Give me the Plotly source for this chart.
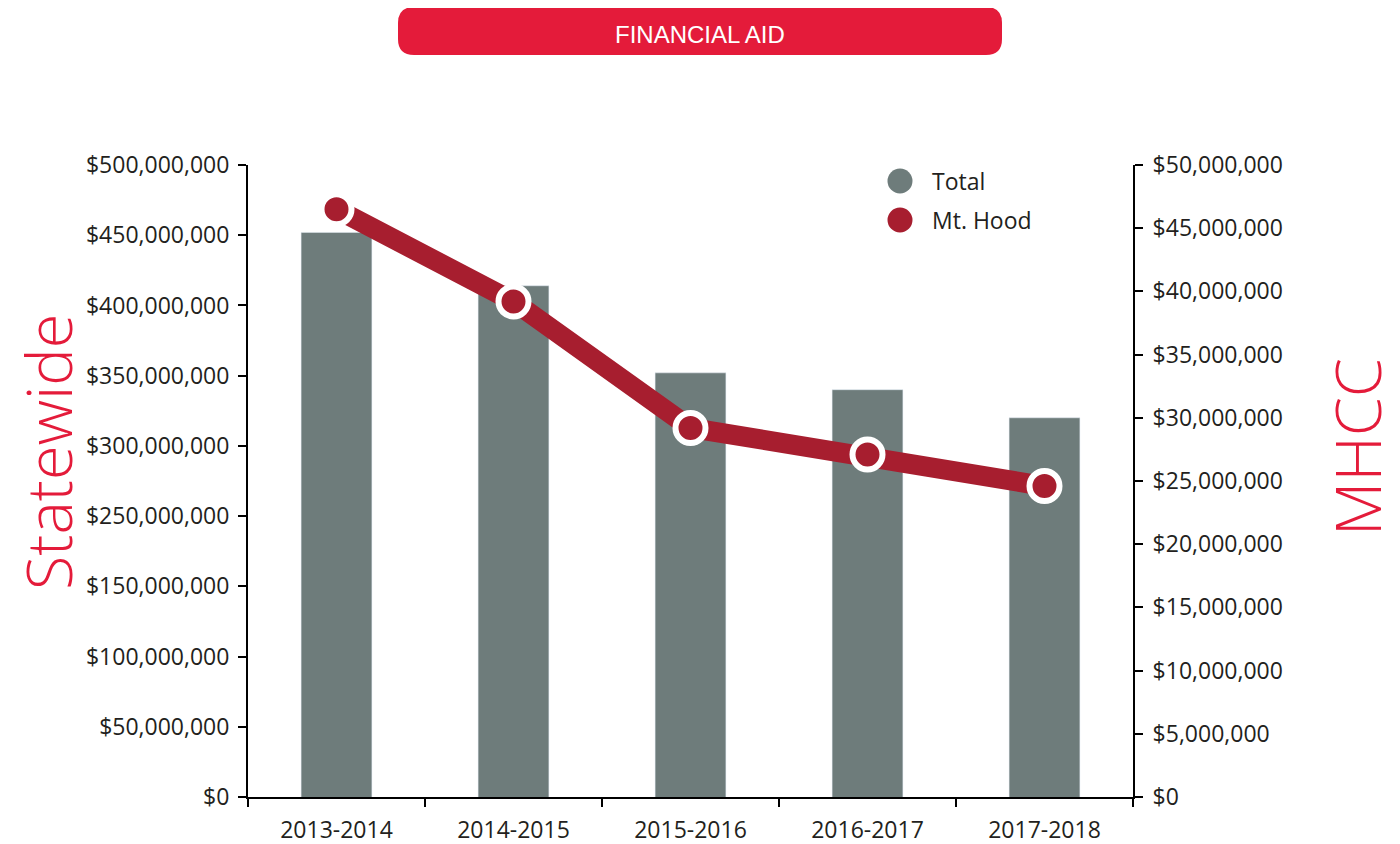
import plotly.graph_objects as go

# ---- data ----
years = ["2013-2014", "2014-2015", "2015-2016", "2016-2017", "2017-2018"]
statewide_total = [452e6, 414e6, 352e6, 340e6, 320e6]      # left axis
mhcc_mt_hood = [46.5e6, 39.2e6, 29.2e6, 27.1e6, 24.6e6]    # right axis

left_tickvals = [50e6, 100e6, 150e6, 200e6, 250e6, 300e6, 350e6, 400e6, 450e6, 500e6]
left_ticktext = ["$0", "$50,000,000", "$100,000,000", "$150,000,000", "$250,000,000",
                 "$300,000,000", "$350,000,000", "$400,000,000", "$450,000,000", "$500,000,000"]
right_tickvals = [i * 5e6 for i in range(11)]
right_ticktext = ["$0"] + ["${:,}".format(int(v)) for v in right_tickvals[1:]]

# ---- layout geometry (page pixels; page body has an 8px margin) ----
OFF = 8
W, H = 1400 - OFF, 844 - OFF
L, R, T, B = 248, 1133, 165, 797
PW, PH = R - L, B - T


def px(x):
    return (x - L) / PW


def py(y):
    return (B - y) / PH


GREY = "#6E7C7B"
DARK_RED = "#A71E2F"
RED = "#E41B3A"
TXT = "#231F20"
FONT = "Open Sans"

fig = go.Figure()
fig.add_trace(go.Bar(x=years, y=statewide_total, marker_color=GREY, name="Total",
                     showlegend=False, yaxis="y", xaxis="x"))
fig.add_trace(go.Scatter(x=years, y=mhcc_mt_hood, yaxis="y2", xaxis="x", name="Mt. Hood",
                         mode="lines+markers", showlegend=False,
                         line=dict(color=DARK_RED, width=20),
                         marker=dict(size=30, color=DARK_RED, line=dict(color="white", width=6))))

axis_common = dict(showgrid=False, zeroline=False, showline=True, linecolor="black", linewidth=2,
                   tickcolor="black", tickwidth=2, ticklen=8,
                   tickfont=dict(family=FONT, size=23, color=TXT))

fig.update_layout(
    width=W, height=H,
    margin=dict(l=L - OFF, r=1400 - R, t=T - OFF, b=844 - B, autoexpand=False),
    paper_bgcolor="white", plot_bgcolor="white",
    bargap=0.6,
    showlegend=False,
    xaxis=dict(type="category", range=[-0.5, 4.5], ticks="outside", tickson="boundaries",
               ticklabelstandoff=11, **axis_common),
    xaxis2=dict(overlaying="x", range=[-0.5, 4.5], tickmode="array",
                tickvals=[-0.5, 0.5, 1.5, 2.5, 3.5, 4.5], ticks="inside", ticklen=8,
                tickcolor="black", tickwidth=2, showticklabels=False, showline=False,
                showgrid=False, zeroline=False, anchor="y"),
    yaxis=dict(range=[50e6, 500e6], tickmode="array", tickvals=left_tickvals,
               ticktext=left_ticktext, ticks="outside", ticklabelstandoff=4, **axis_common),
    yaxis3=dict(overlaying="y", range=[50e6, 500e6], tickmode="array", tickvals=left_tickvals,
                ticks="inside", ticklen=8, tickcolor="black", tickwidth=2,
                showticklabels=False, showline=False, showgrid=False, zeroline=False, anchor="x"),
    yaxis2=dict(overlaying="y", side="right", range=[0, 50e6], tickmode="array",
                tickvals=right_tickvals, ticktext=right_ticktext, ticks="outside",
                ticklabelstandoff=5, **axis_common),
    yaxis4=dict(overlaying="y", side="right", range=[0, 50e6], tickmode="array",
                tickvals=right_tickvals, ticks="inside", ticklen=8, tickcolor="black",
                tickwidth=2, showticklabels=False, showline=False, showgrid=False,
                zeroline=False, anchor="x"),
)

# title banner (rounded rectangle)
x0, x1, y0, y1, r = 398, 1002, 7, 55, 16
path = (f"M {px(x0 + r)},{py(y0)} L {px(x1 - r)},{py(y0)} Q {px(x1)},{py(y0)} {px(x1)},{py(y0 + r)} "
        f"L {px(x1)},{py(y1 - r)} Q {px(x1)},{py(y1)} {px(x1 - r)},{py(y1)} "
        f"L {px(x0 + r)},{py(y1)} Q {px(x0)},{py(y1)} {px(x0)},{py(y1 - r)} "
        f"L {px(x0)},{py(y0 + r)} Q {px(x0)},{py(y0)} {px(x0 + r)},{py(y0)} Z")
fig.add_shape(type="path", path=path, xref="paper", yref="paper",
              fillcolor=RED, line=dict(width=0), layer="above")
fig.add_annotation(text="FINANCIAL AID", x=px(700), y=py(34), xref="paper", yref="paper",
                   xanchor="center", yanchor="middle", showarrow=False,
                   font=dict(family="Liberation Sans", size=24, color="white"))

# axis titles
fig.add_annotation(text="Statewide", x=px(47), y=py(452), xref="paper", yref="paper",
                   xanchor="center", yanchor="middle", textangle=-90, showarrow=False,
                   font=dict(family=FONT, size=63, color=RED, weight=300))
fig.add_annotation(text="MHCC", x=px(1356), y=py(447), xref="paper", yref="paper",
                   xanchor="center", yanchor="middle", textangle=-90, showarrow=False,
                   font=dict(family=FONT, size=63, color=RED, weight=300))

# custom legend
for label, color, yy in [("Total", GREY, 181), ("Mt. Hood", DARK_RED, 220)]:
    fig.add_shape(type="circle", xref="paper", yref="paper", xsizemode="pixel", ysizemode="pixel",
                  xanchor=px(900), yanchor=py(yy), x0=-12.5, x1=12.5, y0=-12.5, y1=12.5,
                  fillcolor=color, line=dict(width=0))
    fig.add_annotation(text=label, x=px(930), y=py(yy), xref="paper", yref="paper",
                       xanchor="left", yanchor="middle", showarrow=False,
                       font=dict(family=FONT, size=23, color=TXT))

fig.write_html("out.html")
